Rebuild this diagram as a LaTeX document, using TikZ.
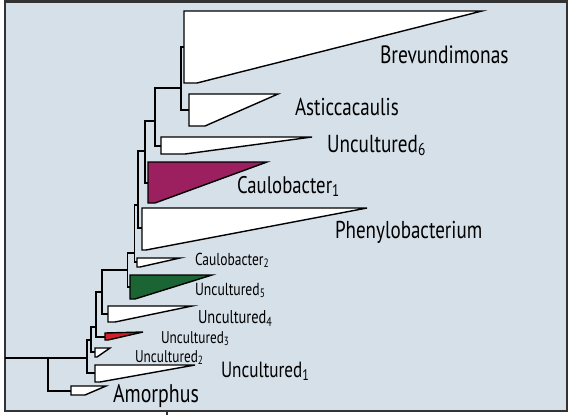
\documentclass[tikz,border=0pt]{standalone}
\usepackage{fontspec}
\setmainfont{PT Sans}[FakeStretch=0.78]
\definecolor{bg}{HTML}{D6E0E9}
\definecolor{frame}{HTML}{333333}
\definecolor{magenta}{HTML}{9C1F60}
\definecolor{darkgreen}{HTML}{1B6535}
\definecolor{redc}{HTML}{D0202A}
\tikzset{
  clade/.style={draw=black, line width=1.4, fill=white, line join=miter},
  branch/.style={draw=black, line width=1.5, line join=miter},
  taxon/.style={anchor=base west, inner sep=0pt, outer sep=0pt, text=black},
}
\begin{document}
\begin{tikzpicture}[x=1pt,y=-1pt]
\useasboundingbox (0,0) rectangle (570,415);
% frame
\draw[draw=frame, fill=bg, line width=2.6] (5,1.5) rectangle (567,411);
\draw[draw=frame, line width=2] (167,411) -- (167,415);

% clades
\draw[clade] (184,11) -- (482,11) -- (197,83) -- (184,83) -- cycle;
\coordinate (brev) at (184,47);
\draw[clade] (189,94) -- (278,94) -- (205,126) -- (189,126) -- cycle;
\coordinate (astic) at (189,110);
\draw[clade] (161,137) -- (312,137) -- (185,154) -- (161,154) -- cycle;
\coordinate (unc6) at (161,146);
\draw[clade, fill=magenta] (148,162) -- (267,162) -- (155,203) -- (148,203) -- cycle;
\coordinate (cau1) at (148,183);
\draw[clade] (142,208) -- (367,208) -- (146,250) -- (142,250) -- cycle;
\coordinate (phen) at (142,228);
\draw[clade] (137,258) -- (180,258) -- (140,267) -- (137,267) -- cycle;
\coordinate (cau2) at (137,262);
\draw[clade, fill=darkgreen] (130,275) -- (212,275) -- (135,299) -- (130,299) -- cycle;
\coordinate (unc5) at (130,287);
\draw[clade] (108,306) -- (192,306) -- (115,322) -- (108,322) -- cycle;
\coordinate (unc4) at (108,314);
\draw[clade, fill=redc] (105,333) -- (143,332) -- (108,340) -- (105,340) -- cycle;
\coordinate (unc3) at (105,337);
\draw[clade] (95,348) -- (110,348) -- (97,357) -- (95,357) -- cycle;
\coordinate (unc2) at (95,352);
\draw[clade] (95,365) -- (195,365) -- (100,382) -- (95,382) -- cycle;
\coordinate (unc1) at (95,373);
\draw[clade] (71,386) -- (106,386) -- (85,395) -- (71,395) -- cycle;
\coordinate (amor) at (71,391);

% internal nodes
\coordinate (J) at (181,88);
\coordinate (I) at (155,121);
\coordinate (H) at (145,151);
\coordinate (G) at (138,205);
\coordinate (F) at (134.5,253);
\coordinate (E) at (127.5,270);
\coordinate (D) at (102,292);
\coordinate (C) at (96,327);
\coordinate (B) at (91,340);
\coordinate (A) at (87,358);
\coordinate (R) at (48,358);
\coordinate (stem) at (5,358);

% branches
\draw[branch] (brev) -| (J) |- (astic);
\draw[branch] (J) -| (I) |- (unc6);
\draw[branch] (I) -| (H) |- (cau1);
\draw[branch] (H) -| (G) |- (phen);
\draw[branch] (G) -| (F) |- (cau2);
\draw[branch] (F) -| (E) |- (unc5);
\draw[branch] (E) -| (D) |- (unc4);
\draw[branch] (D) -| (C) |- (unc3);
\draw[branch] (C) -| (B) |- (unc2);
\draw[branch] (B) -| (A) |- (unc1);
\draw[branch] (A) -- (R) |- (amor);
\draw[branch] (stem) -- (R);

% labels
\node[taxon, font=\fontsize{25}{25}\selectfont] (tbrev) at (380,63) {Brevundimonas};
\node[taxon, font=\fontsize{24.4}{24}\selectfont] (tastic) at (295,115) {Asticcacaulis};
\node[taxon, font=\fontsize{24.6}{24}\selectfont] (tunc6) at (327,152) {Uncultured\textsubscript{6}};
\node[taxon, font=\fontsize{24}{24}\selectfont] (tcau1) at (237,193) {Caulobacter\textsubscript{1}};
\node[taxon, font=\fontsize{24.4}{24}\selectfont] (tphen) at (335,238) {Phenylobacterium};
\node[taxon, font=\fontsize{17.3}{18}\selectfont] (tcau2) at (195,265) {Caulobacter\textsubscript{2}};
\node[taxon, font=\fontsize{17.5}{18}\selectfont] (tunc5) at (195,295) {Uncultured\textsubscript{5}};
\node[taxon, font=\fontsize{18.5}{19}\selectfont] (tunc4) at (198,323) {Uncultured\textsubscript{4}};
\node[taxon, font=\fontsize{17}{17}\selectfont] (tunc3) at (161,343) {Uncultured\textsubscript{3}};
\node[taxon, font=\fontsize{17}{17}\selectfont] (tunc2) at (135,362) {Uncultured\textsubscript{2}};
\node[taxon, font=\fontsize{22}{22}\selectfont] (tunc1) at (221,377) {Uncultured\textsubscript{1}};
\node[taxon, font=\fontsize{25.5}{25}\selectfont] (tamor) at (113,402) {Amorphus};
\end{tikzpicture}
\end{document}
